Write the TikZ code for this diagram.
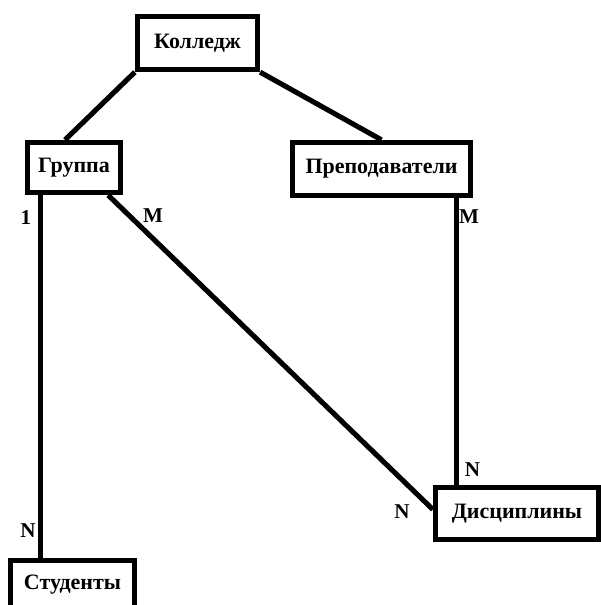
\documentclass[tikz,border=0pt]{standalone}
\usepackage{fontspec}
\setmainfont{Liberation Serif}
\usepackage{tikz}
\usetikzlibrary{positioning,calc}
\tikzstyle{entity} = [rectangle, draw=black, line width=3pt, inner sep=0pt, text centered, font=\fontsize{12.5}{15}\selectfont\bfseries]
\tikzstyle{link} = [line width=2.9pt, color=black]
\tikzstyle{card} = [inner sep=0pt, font=\fontsize{12}{14}\selectfont\bfseries]

\begin{document}
\begin{tikzpicture}[x=0.02cm, y=-0.02cm]
\useasboundingbox (0,0) rectangle (601,605);

\node[entity, minimum width=2.4cm, minimum height=1.06cm] (kolledzh) at (197.5,43) {Колледж};
\node[entity, minimum width=1.86cm, minimum height=1.0cm] (gruppa) at (74,167.5) {Группа};
\node[entity, minimum width=3.56cm, minimum height=1.06cm] (prepod) at (381.5,169) {Преподаватели};
\node[entity, minimum width=3.26cm, minimum height=1.04cm] (discipl) at (517,513.5) {Дисциплины};
\node[entity, minimum width=2.48cm, minimum height=0.96cm] (student) at (72.5,584.5) {Студенты};

% ends of the lines on the box edges
\coordinate (g1) at ($(gruppa.south west)+(15.5,0)$);
\coordinate (g2) at ($(gruppa.south east)+(-15,0)$);
\coordinate (p1) at ($(prepod.south east)+(-16.5,0)$);

\draw[link] (kolledzh.south west) -- ($(gruppa.north)+(-9,0)$);
\draw[link] (kolledzh.south east) -- (prepod.north);
\draw[link] (g1) -- (g1 |- student.north);
\draw[link] (g2) -- ($(discipl.west)+(0,-4)$);
\draw[link] (p1) -- (p1 |- discipl.north);

\node[card] (c1) at (26,218) {1};
\node[card] (cM1) at (153,216) {M};
\node[card] (cM2) at (469,217) {M};
\node[card] (cN1) at (472.5,470) {N};
\node[card] (cN2) at (402,512) {N};
\node[card] (cN3) at (28,531) {N};
\end{tikzpicture}
\end{document}
